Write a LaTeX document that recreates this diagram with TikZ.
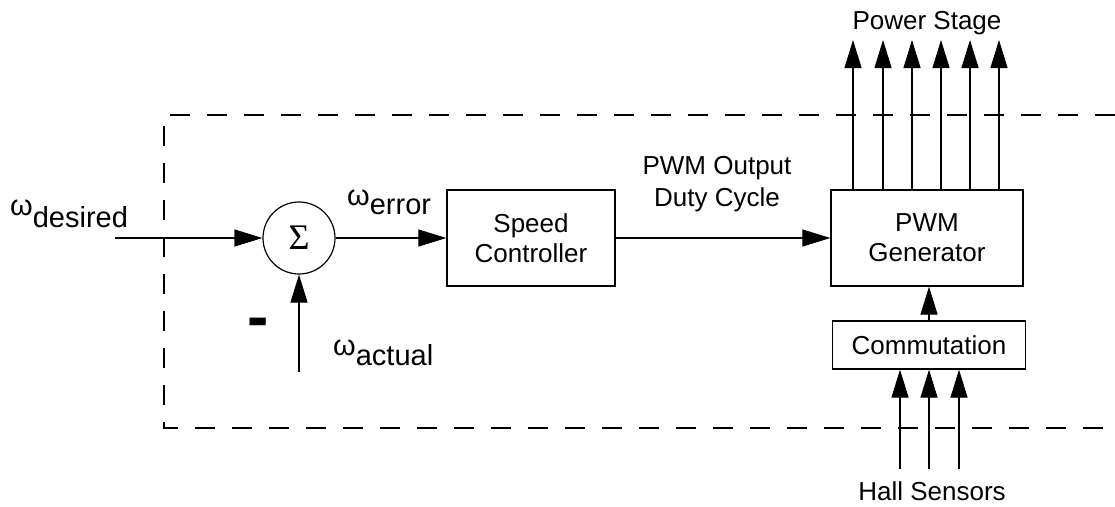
\documentclass[tikz,border=0pt]{standalone}
\usepackage{fontspec}
\setmainfont{Liberation Sans}
\newfontfamily\sigmafont{Liberation Serif}
\usetikzlibrary{arrows.meta}
\begin{document}
\begin{tikzpicture}[x=1pt,y=-1pt,
  every node/.style={font=\fontsize{26}{30}\selectfont},
  blk/.style={draw, line width=1.3pt, align=center, inner sep=0},
  arr/.style={line width=1.2pt, -{Triangle[length=28pt,width=17pt]}},
  dashbox/.style={line width=1.2pt, dash pattern=on 20pt off 17pt},
  lbl/.style={anchor=base west, inner sep=0, font=\fontsize{29}{33}\selectfont}]
\useasboundingbox (0,0) rectangle (1115,506);
% dashed boundary
\draw[dashbox] (1115,115) -- (164,115) -- (164,428) -- (1115,428);
% blocks
\node[circle, draw, line width=1.2pt, minimum size=72pt, inner sep=0] (sum) at (299,238) {\sigmafont\fontsize{36}{36}\selectfont Σ};
\node[blk, minimum width=168pt, minimum height=96pt] (spd) at (531,238) {Speed\\Controller};
\node[blk, minimum width=192pt, minimum height=96pt] (pwm) at (927,238) {PWM\\Generator};
\node[blk, minimum width=193pt, minimum height=48pt] (comm) at (929,345) {Commutation};
% labels
\node[lbl] (wd) at (10,215) {ω\raisebox{-12pt}{desired}};
\node[lbl] (we) at (347,205) {ω\raisebox{-9pt}{error}};
\node[lbl] (wa) at (333,355) {ω\raisebox{-10pt}{actual}};
\node[inner sep=0, font=\fontsize{64}{64}\bfseries\selectfont] (minus) at (258,328) {-};
\node[align=center, font=\fontsize{26}{32}\selectfont] (pwmtxt) at (717,184) {PWM Output\\Duty Cycle};
\node[inner sep=0] (ps) at (927,23) {Power Stage};
\node[inner sep=0] (hs) at (932,491) {Hall Sensors};
% free ends
\coordinate (din) at (115,238);
\coordinate (ain) at (299,372);
\foreach \i/\x in {1/853,2/883,3/912,4/941,5/970,6/999} \coordinate (p\i) at (\x,40);
\foreach \i/\x in {1/900,2/929,3/959} \coordinate (h\i) at (\x,469);
% connectors
\draw[arr] (din) -- (sum.west);
\draw[arr] (ain) -- (sum.south);
\draw[arr] (sum.east) -- (spd.west);
\draw[arr] (spd.east) -- (pwm.west);
\draw[arr] (comm.north) -- (comm.north |- pwm.south);
\foreach \i in {1,...,6} \draw[arr] (pwm.north -| p\i) -- (p\i);
\foreach \i in {1,2,3} \draw[arr] (h\i) -- (h\i |- comm.south);
\end{tikzpicture}
\end{document}
